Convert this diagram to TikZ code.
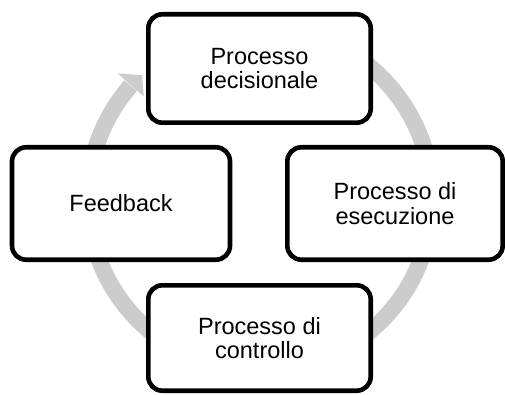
\documentclass[tikz,border=0pt]{standalone}
\usepackage{fontspec}
\setmainfont{Liberation Sans}
\definecolor{ringgray}{RGB}{204,204,204}
\begin{document}
\begin{tikzpicture}[x=1pt,y=1pt,
  box/.style={draw=black, line width=4.6pt, fill=white, rounded corners=14pt,
    align=center, inner sep=0pt, font=\fontsize{23.5}{24.3}\selectfont},
  ring/.style={draw=ringgray, line width=16.5pt}]
\useasboundingbox (0,0) rectangle (505,394);
\coordinate (c) at (260,195);
\draw[ring] ([shift={(80:172)}]c) arc[start angle=80, end angle=-221.2, radius=172];
\fill[ringgray] ([shift={(138.6:155)}]c) -- ([shift={(138.6:190)}]c) -- ([shift={(133.6:171)}]c) -- cycle;
\node[box, minimum width=222.4pt, minimum height=108.4pt] (dec) at (259.5,325.5) {Processo\\decisionale};
\node[box, minimum width=215.4pt, minimum height=112.4pt] (ese) at (395,190.5) {Processo di\\esecuzione};
\node[box, minimum width=222.4pt, minimum height=105.4pt] (con) at (259.5,56) {Processo di\\controllo};
\node[box, minimum width=218pt, minimum height=112.4pt] (fb) at (121,190.5) {Feedback};
\end{tikzpicture}
\end{document}
